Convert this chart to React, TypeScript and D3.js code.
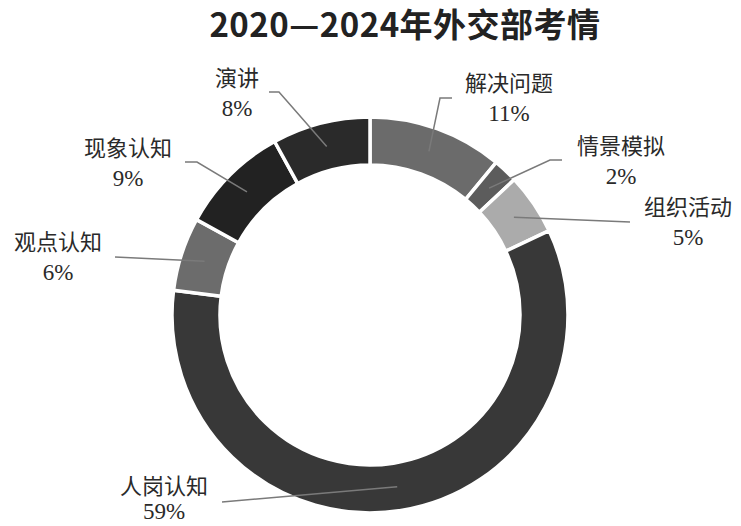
import React, { useRef, useEffect } from 'react';
import * as d3 from 'd3';

// data
const categories = ['解决问题', '情景模拟', '组织活动', '人岗认知', '观点认知', '现象认知', '演讲'];
const values = [11, 2, 5, 59, 6, 9, 8];
const colors = ['#6b6b6b', '#5c5c5c', '#ababab', '#383838', '#6c6c6c', '#222222', '#2a2a2a'];
const title = '2020—2024年外交部考情';

// label placement: text centre, then leader elbow + end
const labelPos: [number, number][] = [[509, 83], [621, 146], [688, 207], [164, 486], [58, 242], [128, 148], [237, 78]];
const leaderPts: [number, number][][] = [
    [[440, 98], [452, 98]],
    [[550, 160], [562, 160]],
    [[630, 222]],
    [[222, 502]],
    [[115, 257]],
    [[197, 162], [185, 162]],
    [[279, 92], [269, 92]],
];

const App: React.FC = () => {
    const svgRef = useRef<SVGSVGElement | null>(null);
    const width = 741;
    const height = 526;

    useEffect(() => {
        document.body.style.margin = '0';
        const svg = d3.select(svgRef.current);
        svg.selectAll('*').remove();

        svg.append('rect').attr('width', width).attr('height', height).attr('fill', '#ffffff');

        svg.append('text')
            .attr('x', 405)
            .attr('y', 37)
            .attr('text-anchor', 'middle')
            .style('font-family', '"Noto Sans CJK SC", sans-serif')
            .style('font-weight', 'bold')
            .style('font-size', '33px')
            .style('letter-spacing', '0.5px')
            .attr('fill', '#222')
            .text(title);

        const cx = 370;
        const cy = 315;
        const outerR = 198;
        const innerR = 150;

        const pie = d3.pie<number>().sort(null).value(d => d);
        const arcs = pie(values);
        const arc = d3.arc<d3.PieArcDatum<number>>().innerRadius(innerR).outerRadius(outerR);

        const g = svg.append('g').attr('transform', `translate(${cx},${cy})`);

        g.selectAll('path.slice')
            .data(arcs)
            .enter()
            .append('path')
            .attr('class', 'slice')
            .attr('d', arc as any)
            .attr('fill', (d, i) => colors[i])
            .attr('stroke', '#ffffff')
            .attr('stroke-width', 3.5);

        // leader lines
        const line = d3.line<[number, number]>();
        arcs.forEach((a, i) => {
            const c = arc.centroid(a);
            const pts: [number, number][] = [[c[0] + cx, c[1] + cy], ...leaderPts[i]];
            svg.append('path')
                .attr('d', line(pts) as string)
                .attr('fill', 'none')
                .attr('stroke', '#7a7a7a')
                .attr('stroke-width', 1.5);
        });

        // labels
        categories.forEach((name, i) => {
            const [lx, ly] = labelPos[i];
            svg.append('text')
                .attr('x', lx)
                .attr('y', ly)
                .attr('dy', '0.35em')
                .attr('text-anchor', 'middle')
                .style('font-family', '"Noto Sans CJK SC", sans-serif')
                .style('font-size', '22px')
                .attr('fill', '#2a2a2a')
                .text(name);
            svg.append('text')
                .attr('x', lx)
                .attr('y', Math.min(ly + 38, height - 7))
                .attr('text-anchor', 'middle')
                .style('font-family', '"Liberation Serif", serif')
                .style('font-size', '23px')
                .attr('fill', '#2a2a2a')
                .text(`${values[i]}%`);
        });
    }, []);

    return <svg ref={svgRef} width={width} height={height} style={{ display: 'block' }}></svg>;
};

export default App;
